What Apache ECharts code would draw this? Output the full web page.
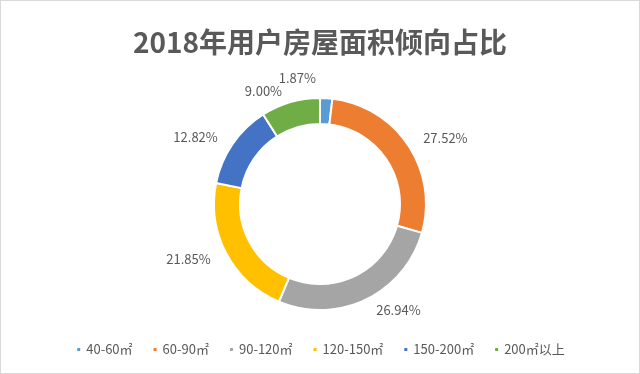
<!DOCTYPE html>
<html><head><meta charset="utf-8">
<script src="https://cdn.jsdelivr.net/npm/echarts@6/dist/echarts.min.js"></script>
<style>html,body{margin:0;padding:0;background:#fff}#c{width:638px;height:372px;border:1px solid #d9d9d9}</style>
</head><body><div id="c"></div>
<script>
const categories = ['40-60㎡','60-90㎡','90-120㎡','120-150㎡','150-200㎡','200㎡以上'];
const values = [1.87, 27.52, 26.94, 21.85, 12.82, 9.00];
const colors = ['#5B9BD5','#ED7D31','#A5A5A5','#FFC000','#4472C4','#70AD47'];
const chart = echarts.init(document.getElementById('c'));
chart.setOption({
  animation:false,
  title:{text:'2018年用户房屋面积倾向占比',left:'center',top:22,textStyle:{fontFamily:'Noto Sans CJK SC',fontSize:28,fontWeight:'bold',color:'#595959'}},
  legend:{bottom:12,left:'center',itemWidth:5,itemHeight:5,itemGap:19,icon:'rect',textStyle:{fontFamily:'Noto Sans CJK SC',fontSize:13,color:'#595959'},data:categories},
  color:colors,
  series:[{type:'pie',center:[319,203],radius:[80,106],startAngle:90,clockwise:true,
    itemStyle:{borderColor:'#fff',borderWidth:2},
    label:{show:true,position:'outside',formatter:p=>p.value.toFixed(2)+'%',fontFamily:'Noto Sans CJK SC',fontSize:13,color:'#595959'},
    labelLine:{show:false,length:12,length2:0},
    labelLayout:p=>p.dataIndex===0?{dx:-(p.labelRect.width+16),dy:-8}:{},
    data:categories.map((c,i)=>({name:c,value:values[i]}))}]
});
</script></body></html>
